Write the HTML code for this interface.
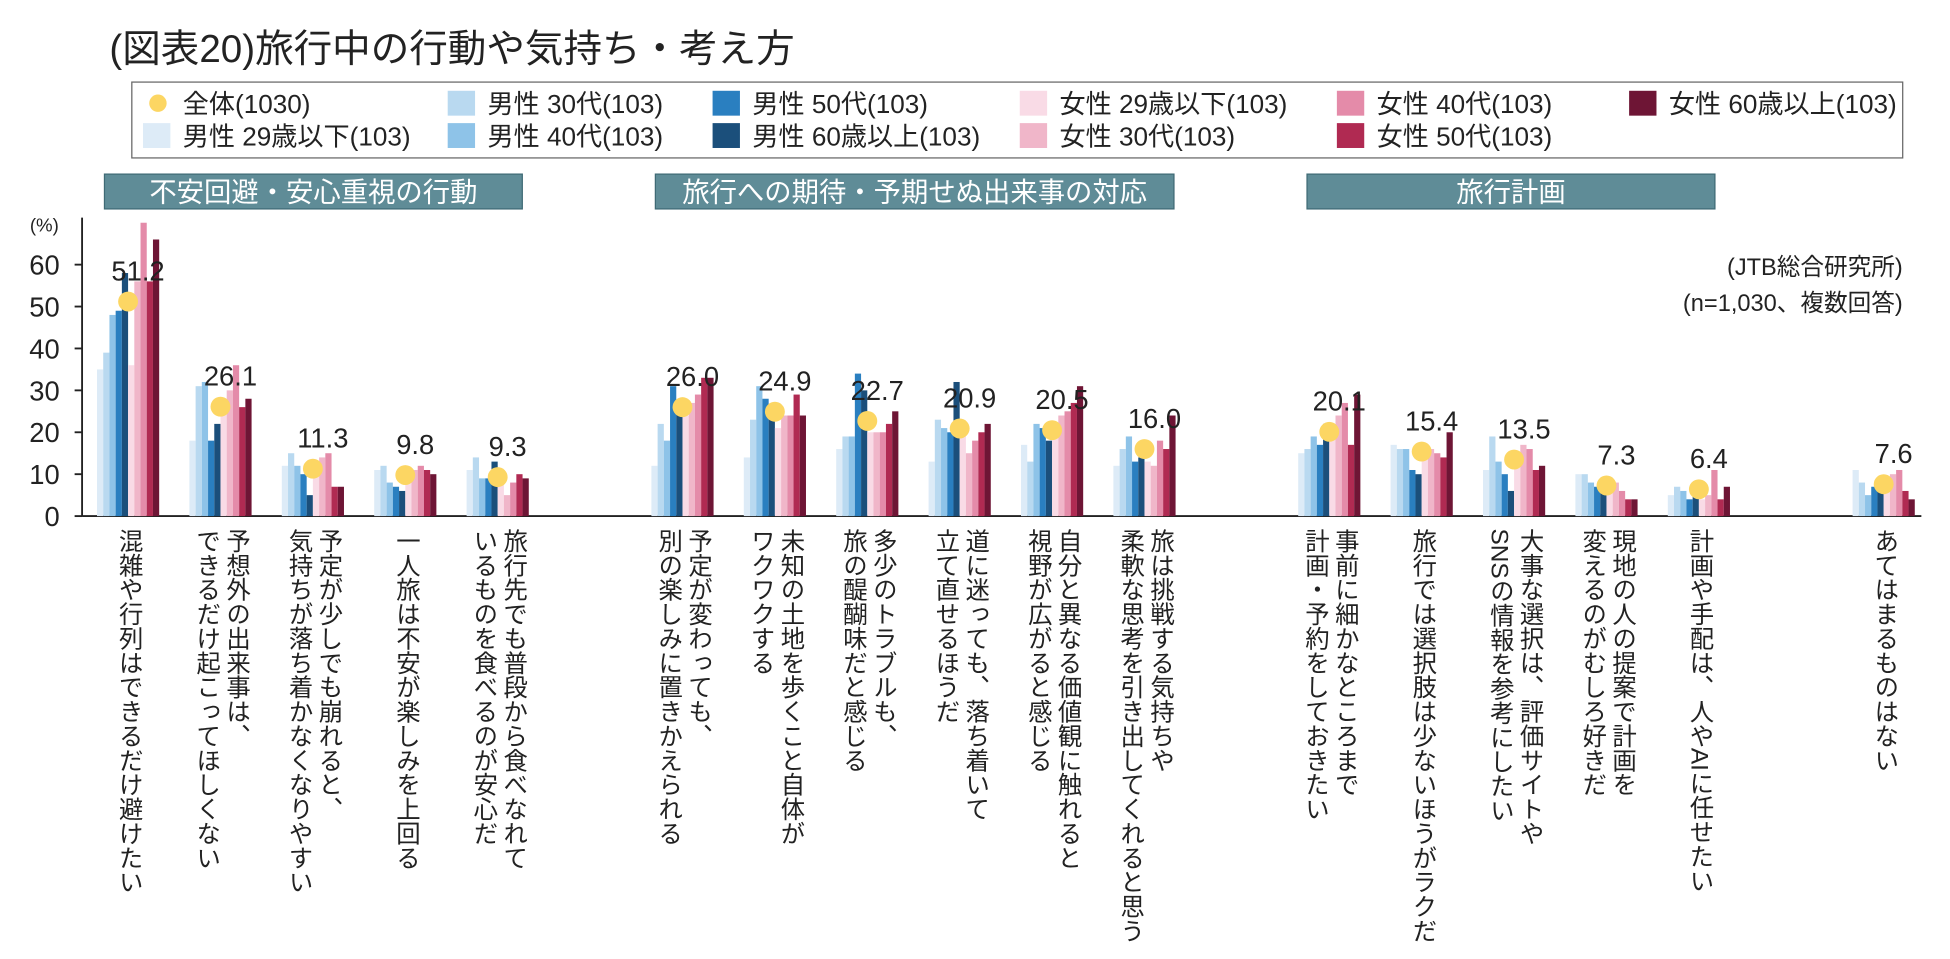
<!DOCTYPE html>
<html><head><meta charset="utf-8"><style>
body{margin:0;background:#fff;font-family:"Liberation Sans","Noto Sans CJK JP",sans-serif;}
#outer{width:1950px;height:959px;overflow:hidden;position:relative;}
#wrap{position:absolute;left:0;top:0;width:1568px;height:771px;transform:scale(1.2436);transform-origin:0 0;}
svg text{font-family:"Liberation Sans","Noto Sans CJK JP",sans-serif;}
.lbl{position:absolute;top:425px;writing-mode:vertical-rl;font-size:19.6px;line-height:24px;color:#222;white-space:nowrap;transform:translateX(-50%);}
</style></head><body>
<div id="outer">
<div id="wrap">
<svg id="svg" width="1568" height="771"></svg>
</div></div>
<script>
const categories=["混雑や行列はできるだけ避けたい","予想外の出来事は、|できるだけ起こってほしくない","予定が少しでも崩れると、|気持ちが落ち着かなくなりやすい","一人旅は不安が楽しみを上回る","旅行先でも普段から食べなれて|いるものを食べるのが安心だ","予定が変わっても、|別の楽しみに置きかえられる","未知の土地を歩くこと自体が|ワクワクする","多少のトラブルも、|旅の醍醐味だと感じる","道に迷っても、落ち着いて|立て直せるほうだ","自分と異なる価値観に触れると|視野が広がると感じる","旅は挑戦する気持ちや|柔軟な思考を引き出してくれると思う","事前に細かなところまで|計画・予約をしておきたい","旅行では選択肢は少ないほうがラクだ","大事な選択は、評価サイトや|SNSの情報を参考にしたい","現地の人の提案で計画を|変えるのがむしろ好きだ","計画や手配は、人やAIに任せたい","あてはまるものはない"];
const slots=[0,1,2,3,4,6,7,8,9,10,11,13,14,15,16,17,19];
const overall=[51.2,26.1,11.3,9.8,9.3,26.0,24.9,22.7,20.9,20.5,16.0,20.1,15.4,13.5,7.3,6.4,7.6];
const seriesNames=["男性 29歳以下(103)","男性 30代(103)","男性 40代(103)","男性 50代(103)","男性 60歳以上(103)","女性 29歳以下(103)","女性 30代(103)","女性 40代(103)","女性 50代(103)","女性 60歳以上(103)"];
const m29=[35,18,12,11,11,12,14,16,13,17,12,15,17,11,10,5,11];
const m30=[39,31,15,12,14,22,23,19,23,13,16,16,16,19,10,7,8];
const m40=[48,32,12,8,9,18,31,19,21,22,19,19,16,13,8,6,5];
const m50=[49,18,10,7,9,31,28,34,20,21,13,17,11,10,7,4,7];
const m60=[58,22,5,6,13,26,26,30,32,18,14,22,10,6,7,6,6];
const w29=[36,26,11,10,8,24,21,20,20,19,13,19,14,14,7,4,7];
const w30=[56,30,14,11,5,27,24,20,15,24,12,24,16,17,8,5,10];
const w40=[70,36,15,12,8,29,24,20,18,25,18,27,15,16,6,11,11];
const w50=[56,26,7,11,10,33,29,22,20,27,16,17,14,11,4,4,6];
const w60=[66,28,7,10,9,33,24,25,22,31,24,29,20,12,4,7,4];
const series=[m29,m30,m40,m50,m60,w29,w30,w40,w50,w60];
const yTicks=[0,10,20,30,40,50,60];
const colors=["#ddebf7","#b9d9f0","#8ec3e8","#2a7fc0","#1b4f7b","#f9dbe6","#f0b6c9","#e48ba9","#b02a52","#6e1535"];
const NS="http://www.w3.org/2000/svg";
const svg=document.getElementById('svg');
function y(v){return 415-v*3.37;}
function x(i){return 103+slots[i]*74.3;}
function mk(t,a,p){const e=document.createElementNS(NS,t);for(const k in a)e.setAttribute(k,a[k]);(p||svg).appendChild(e);return e;}
let t=mk('text',{x:88,y:50,'font-size':31,fill:'#222'});t.textContent='(図表20)旅行中の行動や気持ち・考え方';


let lb=mk('rect',{x:106,y:66,width:1424,height:61,fill:'#fff',stroke:'#666','stroke-width':1});


const legItems=[["全体(1030)",-1,0,0],[seriesNames[0],0,0,1],[seriesNames[1],1,1,0],[seriesNames[2],2,1,1],[seriesNames[3],3,2,0],[seriesNames[4],4,2,1],[seriesNames[5],5,3,0],[seriesNames[6],6,3,1],[seriesNames[7],7,4,0],[seriesNames[8],8,4,1],[seriesNames[9],9,5,0]];
const colX=[115,360,573,820,1075,1310];
legItems.forEach(it=>{
  const g=mk('g',{});
  
  
  const lx=colX[it[2]],ly=it[3]?109:83;
  if(it[1]<0){mk('circle',{cx:lx+12,cy:ly,r:7,fill:'#fcd663'},g);}
  else mk('rect',{x:lx,y:ly-10,width:22,height:20,fill:colors[it[1]]},g);
  const tx=mk('text',{x:lx+32,y:ly+8,'font-size':21,fill:'#222'},g);tx.textContent=it[0];
});
[[84,420,'不安回避・安心重視の行動'],[527,944,'旅行への期待・予期せぬ出来事の対応'],[1051,1379,'旅行計画']].forEach(h=>{
  const g=mk('g',{});
  
  
  mk('rect',{x:h[0],y:140,width:h[1]-h[0],height:28,fill:'#5f8c97',stroke:'#3f6a75'},g);
  const tx=mk('text',{x:(h[0]+h[1])/2,y:162,'font-size':22,fill:'#fff','text-anchor':'middle'},g);tx.textContent=h[2];
});
let ax=mk('line',{x1:66,y1:175,x2:66,y2:415,stroke:'#222','stroke-width':1.5});


let bx=mk('line',{x1:66,y1:415,x2:1545,y2:415,stroke:'#222','stroke-width':1.5});


yTicks.forEach(v=>{
  mk('line',{x1:60,y1:y(v),x2:66,y2:y(v),stroke:'#222','stroke-width':1.5});
  const tx=mk('text',{x:48,y:y(v)+8,'font-size':22,fill:'#222','text-anchor':'end'});tx.textContent=v;
  
  
});
let pu=mk('text',{x:24,y:186,'font-size':15,fill:'#222'});pu.textContent='(%)';
let s1=mk('text',{x:1530,y:221,'font-size':19,fill:'#222','text-anchor':'end'});s1.textContent='(JTB総合研究所)';


let s2=mk('text',{x:1530,y:250,'font-size':19,fill:'#222','text-anchor':'end'});s2.textContent='(n=1,030、複数回答)';


categories.forEach((c,i)=>{
  const cx=x(i);
  series.forEach((s,j)=>{
    const r=mk('rect',{x:cx-25+j*5,y:y(s[i]),width:5,height:415-y(s[i]),fill:colors[j]});
    
    
  });
  const d=mk('circle',{cx:cx,cy:y(overall[i]),r:8,fill:'#fcd663'});
  
  
  const vt=mk('text',{x:cx+8,y:y(overall[i])-17,'font-size':22,fill:'#222','text-anchor':'middle'});vt.textContent=overall[i].toFixed(1);
  
  
  const dv=document.createElement('div');dv.className='lbl';dv.style.left=cx+'px';
  dv.innerHTML=c.split('|').join('<br>');
  
  
  document.getElementById('wrap').appendChild(dv);
});
</script>
</body></html>
